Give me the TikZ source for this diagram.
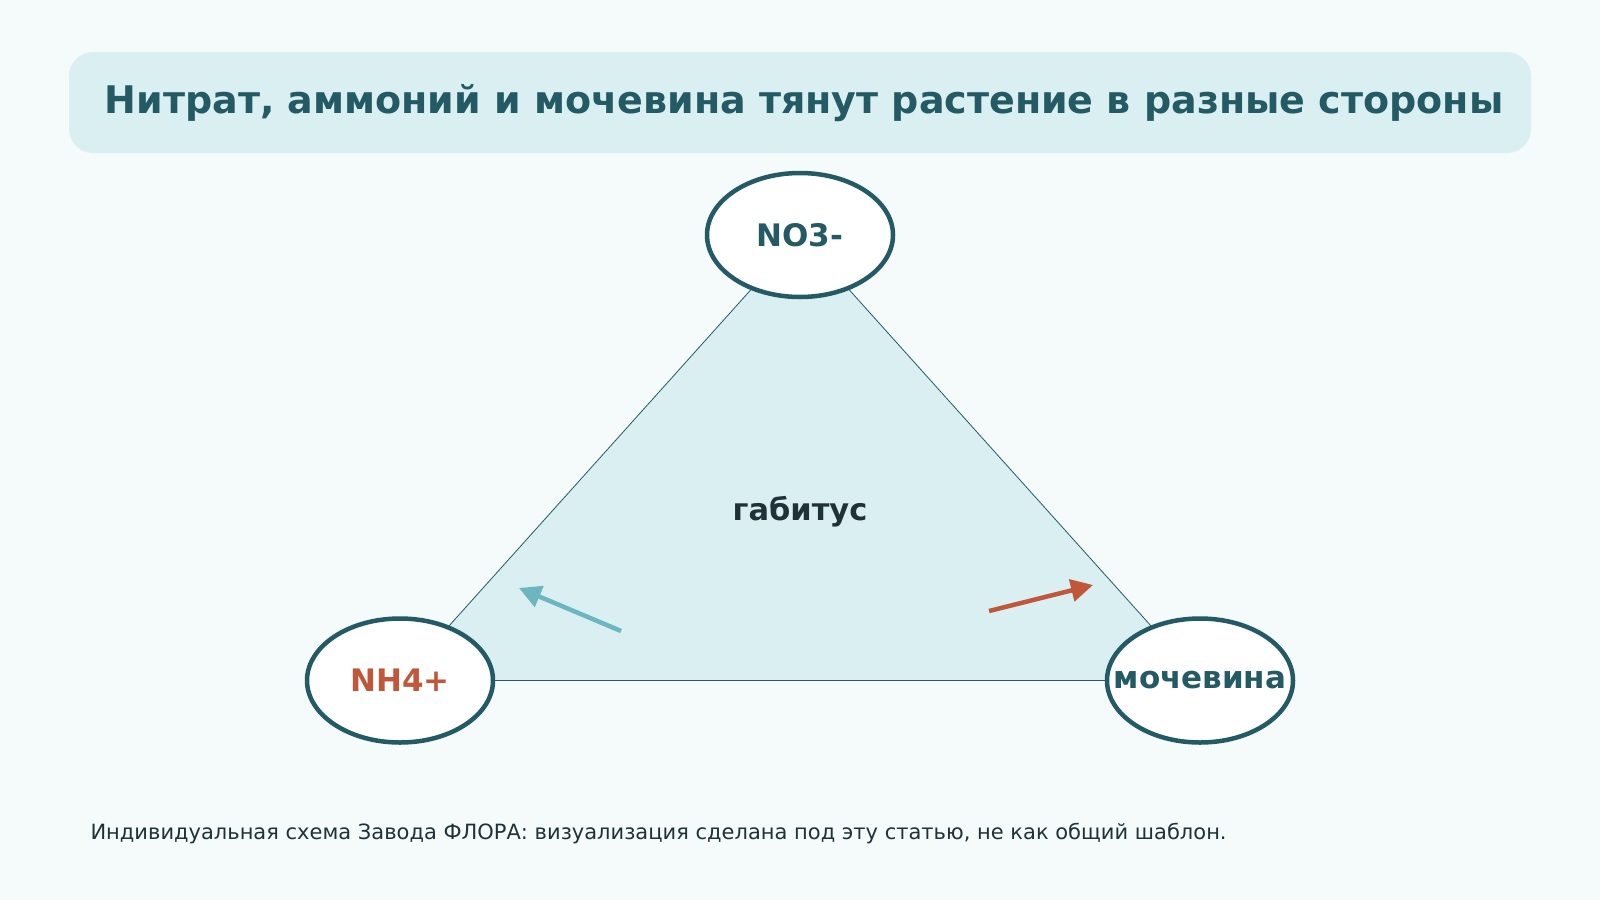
\documentclass[tikz,border=0pt]{standalone}
\usepackage{fontspec}
\setmainfont{DejaVu Sans}
\usetikzlibrary{arrows.meta,shapes.geometric}
\definecolor{bg}{HTML}{F5FAFB}
\definecolor{panel}{HTML}{DAEFF1}
\definecolor{teal}{HTML}{245A64}
\definecolor{ink}{HTML}{1F3238}
\definecolor{orng}{HTML}{C0573A}
\definecolor{lteal}{HTML}{6DB6BF}
\tikzset{
  x=1pt,y=-1pt,
  ion/.style={ellipse,draw=teal,line width=4.5pt,fill=white,minimum width=186pt,minimum height=124pt,inner xsep=-22pt,inner ysep=0pt,font=\bfseries\fontsize{31}{34}\selectfont},
  edge/.style={draw=teal,line width=0.8pt},
  pull/.style={line width=4.5pt,-{Triangle[length=22pt,width=22pt]}},
}
\begin{document}
\begin{tikzpicture}
\fill[bg] (0,0) rectangle (1600,900);
\useasboundingbox (0,0) rectangle (1600,900);
\fill[panel,rounded corners=24pt] (69,52) rectangle (1531,153);
\node[text=teal,font=\bfseries\fontsize{38}{42}\selectfont] (title) at (804,103) {Нитрат, аммоний и мочевина тянут растение в разные стороны};
\coordinate (pn) at (800,235);
\coordinate (pa) at (400,680.5);
\coordinate (pu) at (1200,680.5);
\path[fill=panel,edge] (pn) -- (pa) -- (pu) -- cycle;
\node[ion,text=teal] (no3) at (pn) {NO3-};
\node[ion,text=orng] (nh4) at (pa) {NH4+};
\node[ion,text=teal] (urea) at (pu) {мочевина};
\node[text=ink,font=\bfseries\fontsize{30.5}{34}\selectfont] (hab) at (800,512) {габитус};
\coordinate (t1) at (621,631);
\coordinate (t2) at (519,588);
\coordinate (o1) at (989,611);
\coordinate (o2) at (1093,585);
\draw[pull,lteal] (t1) -- (t2);
\draw[pull,orng] (o1) -- (o2);
\node[anchor=west,text=ink,font=\fontsize{21}{25}\selectfont] (foot) at (87,834) {Индивидуальная схема Завода ФЛОРА: визуализация сделана под эту статью, не как общий шаблон.};
\end{tikzpicture}
\end{document}
